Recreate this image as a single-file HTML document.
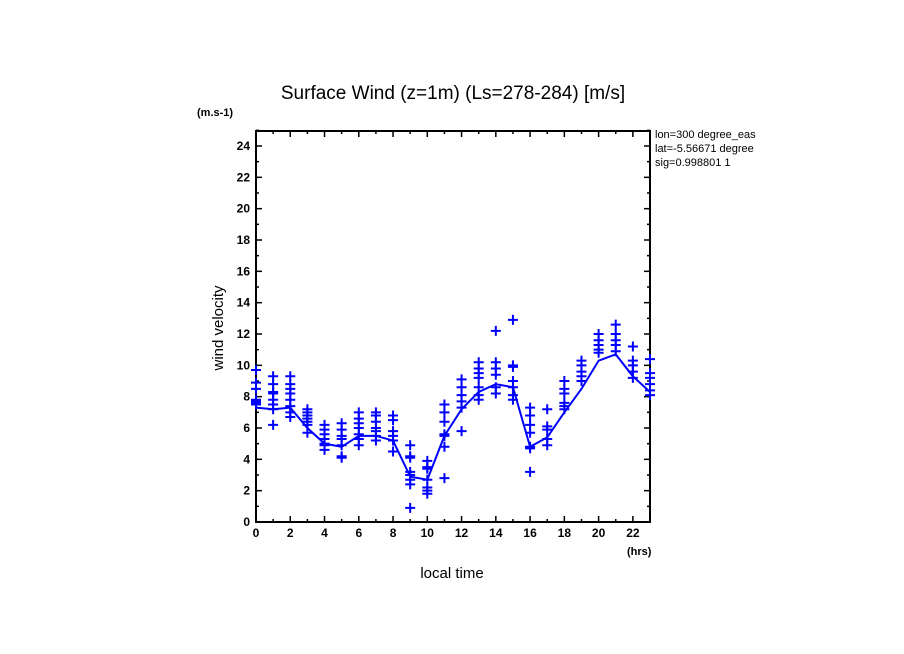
<!DOCTYPE html>
<html><head><meta charset="utf-8"><style>
body{margin:0;background:#fff;}
svg{display:block;font-family:"Liberation Sans",sans-serif;}
</style></head><body>
<svg id="chart" width="904" height="654" xmlns="http://www.w3.org/2000/svg">
<rect width="904" height="654" fill="#fff"/>
<text x="453" y="99" font-size="19" text-anchor="middle">Surface Wind (z=1m) (Ls=278-284) [m/s]</text>
<text x="197" y="116" font-size="11" font-weight="bold">(m.s-1)</text>
<text x="655" y="138" font-size="11">lon=300 degree_eas</text>
<text x="655" y="152" font-size="11">lat=-5.56671 degree</text>
<text x="655" y="166" font-size="11">sig=0.998801 1</text>
<text x="627" y="555" font-size="11" font-weight="bold">(hrs)</text>
<text x="452" y="578" font-size="15" text-anchor="middle">local time</text>
<text transform="translate(223,328) rotate(-90)" font-size="15" text-anchor="middle">wind velocity</text>
<g id="axes"></g>
<g id="marks"></g>
</svg>
<script>
const hours=[0,1,2,3,4,5,6,7,8,9,10,11,12,13,14,15,16,17,18,19,20,21,22,23];
const meanWind=[7.3,7.2,7.3,6.0,5.0,4.8,5.5,5.5,5.2,2.9,2.7,5.5,7.2,8.3,8.8,8.6,4.8,5.4,7.0,8.5,10.3,10.7,9.3,8.3];
const samples=[
[9.7,8.9,8.5,7.8,7.6,7.5,7.7],
[9.3,8.8,8.3,8.2,7.8,7.5,7.2,6.2],
[9.3,8.8,8.5,8.2,7.8,7.4,7.0,6.7],
[7.2,7.0,6.8,6.6,6.4,6.2,5.7],
[6.2,5.9,5.6,5.3,5.0,4.9,4.6],
[6.3,5.9,5.5,5.3,4.9,4.2,4.1],
[7.0,6.6,6.3,6.0,5.6,5.3,4.9],
[7.0,6.8,6.4,6.0,5.8,5.5,5.2],
[6.8,6.5,5.8,5.5,5.2,4.5],
[4.9,4.2,4.1,3.2,3.0,2.7,2.4,0.9],
[3.9,3.5,3.4,2.7,2.2,2.0,1.8],
[7.5,7.0,6.4,5.6,5.5,4.8,2.8],
[9.1,8.6,8.1,7.7,7.3,5.8],
[10.2,9.8,9.5,9.2,8.6,8.1,7.8],
[12.2,10.2,9.8,9.4,8.6,8.2],
[12.9,10.0,9.9,9.0,8.6,8.1,7.8],
[7.3,6.8,6.2,5.7,4.8,4.7,3.2],
[7.2,6.1,5.9,5.3,4.9],
[9.0,8.5,8.2,7.6,7.4,7.2],
[10.3,10.0,9.6,9.3,9.0],
[12.0,11.6,11.3,11.0,10.8],
[12.6,12.0,11.6,11.3,10.9],
[11.2,10.3,10.0,9.6,9.2],
[10.4,9.5,9.2,8.8,8.4,8.1]];
const xTicks=[0,2,4,6,8,10,12,14,16,18,20,22];
const yTicks=[0,2,4,6,8,10,12,14,16,18,20,22,24];
const L=256,R=650,T=131,B=522;
const X=h=>L+(h-0)/23*(R-L);
const Y=v=>B-v/24*(B-146);
const NS="http://www.w3.org/2000/svg";
function mk(tag,attrs,parent){const e=document.createElementNS(NS,tag);for(const k in attrs)e.setAttribute(k,attrs[k]);parent.appendChild(e);return e;}
const ax=document.getElementById('axes'),mg=document.getElementById('marks');
const frame=mk('rect',{x:L,y:T,width:R-L,height:B-T,fill:'none',stroke:'#000','stroke-width':2},ax);


for(let h=0;h<=23;h++){
  const len=h%2===0?6:3,x=X(h);
  mk('line',{x1:x,y1:B,x2:x,y2:B-len,stroke:'#000','stroke-width':1.5},ax);
  mk('line',{x1:x,y1:T,x2:x,y2:T+len,stroke:'#000','stroke-width':1.5},ax);
}
xTicks.forEach(t=>{const tx=mk('text',{x:X(t),y:B+15,'font-size':12,'font-weight':'bold','text-anchor':'middle'},ax);tx.textContent=t;

});
for(let v=0;v<=25;v++){
  const len=v%2===0?6:3,y=Y(v);
  mk('line',{x1:L,y1:y,x2:L+len,y2:y,stroke:'#000','stroke-width':1.5},ax);
  mk('line',{x1:R,y1:y,x2:R-len,y2:y,stroke:'#000','stroke-width':1.5},ax);
}
yTicks.forEach(t=>{const tx=mk('text',{x:L-6,y:Y(t)+4,'font-size':12,'font-weight':'bold','text-anchor':'end'},ax);tx.textContent=t;

});
const line=mk('polyline',{points:hours.map((h,i)=>X(h)+','+Y(meanWind[i])).join(' '),fill:'none',stroke:'#0000ff','stroke-width':2},mg);


samples.forEach((arr,i)=>arr.forEach(v=>{
  const x=X(hours[i]),y=Y(v);
  const p=mk('path',{d:`M${x-5},${y}H${x+5}M${x},${y-5}V${y+5}`,stroke:'#0000ff','stroke-width':2,fill:'none'},mg);
  
  
}));
</script>
</body></html>
